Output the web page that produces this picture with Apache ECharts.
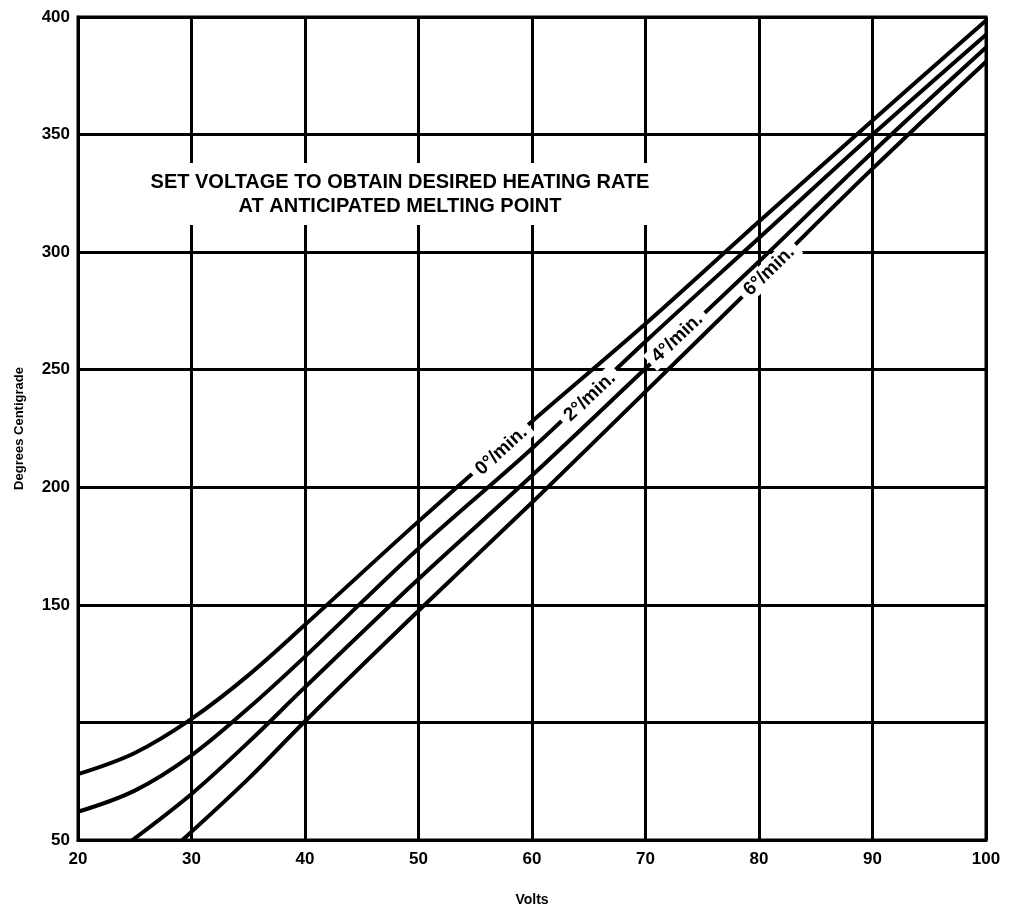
<!DOCTYPE html>
<html>
<head>
<meta charset="utf-8">
<script src="https://cdn.jsdelivr.net/npm/echarts@6/dist/echarts.min.js"></script>
<style>
  html, body { margin: 0; padding: 0; background: #fff; }
  #chart { width: 1010px; height: 914px; }
</style>
</head>
<body>
<div id="chart"></div>
<script>
// Heating rate curves (volts -> degrees C)
var volts0 = [20, 25, 30, 35, 40, 50, 60, 70, 80, 90, 100];
var rate0  = [78, 87, 101.5, 120, 141.5, 185.5, 228, 269.5, 313, 356, 398.5];

var volts2 = [20, 25, 30, 35, 40, 50, 60, 70, 80, 90, 100];
var rate2  = [62, 71, 86, 106, 128, 174, 216.5, 262, 306, 350, 392.5];

var volts4 = [24.8, 30, 35, 40, 50, 60, 70, 80, 90, 100];
var rate4  = [50, 69.6, 91.5, 115, 161, 205, 250.5, 296, 342.5, 387];

var volts6 = [29.2, 35, 40, 50, 60, 70, 80, 90, 100];
var rate6  = [50, 76, 100.5, 147.5, 193.5, 240.7, 288, 335.5, 381];

// labels written along the curves
var curveNames = ['0°/min.', '2°/min.', '4°/min.', '6°/min.'];
var labelVolts = [57.3, 65.1, 72.8, 80.9];
var labelTemps = [215.5, 238.5, 263.5, 292];
var labelAngle = [42, 43, 43, 44];

var xTicks = [20, 30, 40, 50, 60, 70, 80, 90, 100];
var yHidden = [100];

function pairs(xs, ys) {
    var out = [];
    for (var i = 0; i < xs.length; i++) out.push([xs[i], ys[i]]);
    return out;
}

var chart = echarts.init(document.getElementById('chart'));

var lineStyle = { color: '#000', width: 4 };
function curve(name, xs, ys) {
    return {
        name: name,
        type: 'line',
        data: pairs(xs, ys),
        smooth: 0.35,
        showSymbol: false,
        lineStyle: lineStyle,
        z: 3
    };
}

var labelData = [];
for (var i = 0; i < curveNames.length; i++) {
    labelData.push({
        value: [labelVolts[i], labelTemps[i], curveNames[i]],
        label: { rotate: labelAngle[i] }
    });
}

var option = {
    animation: false,
    backgroundColor: '#fff',
    grid: {
        left: 78, right: 24, top: 17, bottom: 74,
        show: true, borderColor: '#000', borderWidth: 3
    },
    xAxis: {
        type: 'value',
        min: 20, max: 100, interval: 10,
        name: 'Volts',
        nameLocation: 'middle',
        nameGap: 53,
        nameTextStyle: { color: '#000', fontSize: 14, fontWeight: 'bold', fontFamily: 'Liberation Sans' },
        axisLine: { lineStyle: { color: '#000', width: 3 } },
        axisTick: { show: false },
        axisLabel: {
            color: '#000', fontSize: 17, fontWeight: 'bold',
            fontFamily: 'Liberation Sans', margin: 11,
            formatter: function (v) { return xTicks.indexOf(v) >= 0 ? String(v) : ''; }
        },
        splitLine: { show: true, lineStyle: { color: '#000', width: 3 } }
    },
    yAxis: {
        type: 'value',
        min: 50, max: 400, interval: 50,
        name: 'Degrees Centigrade',
        nameLocation: 'middle',
        nameGap: 52,
        nameTextStyle: { color: '#000', fontSize: 13, fontWeight: 'bold', fontFamily: 'Liberation Sans' },
        axisLine: { show: true, lineStyle: { color: '#000', width: 3 } },
        axisTick: { show: false },
        axisLabel: {
            color: '#000', fontSize: 17, fontWeight: 'bold',
            fontFamily: 'Liberation Sans', margin: 8,
            formatter: function (v) { return yHidden.indexOf(v) >= 0 ? '' : String(v); }
        },
        splitLine: { show: true, lineStyle: { color: '#000', width: 3 } }
    },
    series: [
        curve('0°/min.', volts0, rate0),
        curve('2°/min.', volts2, rate2),
        curve('4°/min.', volts4, rate4),
        curve('6°/min.', volts6, rate6),
        {
            type: 'scatter',
            symbolSize: 0,
            data: labelData,
            z: 10,
            silent: true,
            itemStyle: { opacity: 1 },
            label: {
                show: true,
                position: 'inside',
                formatter: function (p) { return p.value[2]; },
                color: '#000',
                fontSize: 19,
                fontWeight: 'bold',
                fontFamily: 'Liberation Sans',
                backgroundColor: '#fff',
                padding: [1, 6]
            }
        }
    ],
    graphic: [{
        type: 'text',
        x: 400,
        y: 194,
        z: 100,
        style: {
            text: 'SET VOLTAGE TO OBTAIN DESIRED HEATING RATE\nAT ANTICIPATED MELTING POINT',
            fill: '#000',
            font: 'bold 20px "Liberation Sans"',
            align: 'center',
            verticalAlign: 'middle',
            lineHeight: 24,
            backgroundColor: '#fff',
            padding: [7, 6]
        }
    }]
};

chart.setOption(option);
</script>
</body>
</html>
